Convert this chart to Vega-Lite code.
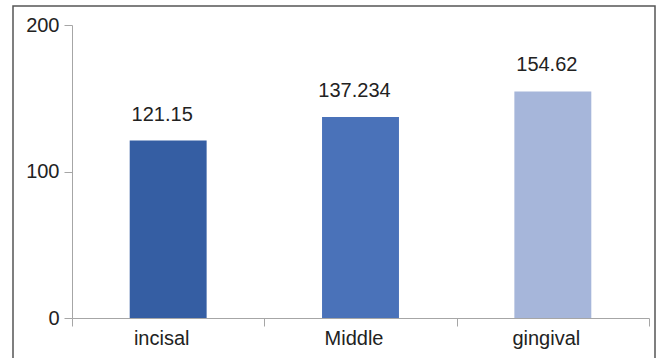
{
  "$schema": "https://vega.github.io/schema/vega-lite/v6.json",
  "autosize": "none",
  "padding": {"left": 13, "top": 6, "right": 6, "bottom": 0},
  "width": 642,
  "height": 370,
  "background": "white",
  "config": {
    "view": {"stroke": "#555555", "strokeWidth": 1.5},
    "font": "Liberation Sans"
  },
  "data": {
    "values": [
      {"site": "incisal", "value": 121.15, "label": "121.15"},
      {"site": "Middle", "value": 137.234, "label": "137.234"},
      {"site": "gingival", "value": 154.62, "label": "154.62"}
    ]
  },
  "encoding": {
    "x": {
      "field": "site",
      "type": "nominal",
      "sort": null,
      "scale": {"range": [59, 636], "paddingInner": 0, "paddingOuter": 0},
      "axis": {
        "title": null,
        "offset": -58,
        "labelAngle": 0,
        "tickBand": "extent",
        "domainColor": "#a6a6a6",
        "tickColor": "#a6a6a6",
        "tickSize": 8,
        "labelFontSize": 20,
        "labelColor": "#222222",
        "labelPadding": 2,
        "labelOffset": -7,
        "grid": false
      }
    },
    "y": {
      "field": "value",
      "type": "quantitative",
      "scale": {"domain": [0, 200], "range": [312, 19], "nice": false},
      "axis": {
        "title": null,
        "offset": -59,
        "values": [0, 100, 200],
        "domainColor": "#a6a6a6",
        "tickColor": "#a6a6a6",
        "tickSize": 8,
        "labelFontSize": 20,
        "labelColor": "#222222",
        "labelPadding": 5,
        "grid": false
      }
    }
  },
  "layer": [
    {
      "mark": {"type": "bar", "width": {"band": 0.4}},
      "encoding": {
        "color": {
          "field": "site",
          "type": "nominal",
          "sort": null,
          "scale": {"domain": ["incisal", "Middle", "gingival"], "range": ["#355ea3", "#4a72b9", "#a6b6da"]},
          "legend": null
        }
      }
    },
    {
      "mark": {"type": "text", "baseline": "alphabetic", "dy": -20, "dx": -6, "fontSize": 20, "color": "#222222"},
      "encoding": {"text": {"field": "label"}}
    }
  ]
}
